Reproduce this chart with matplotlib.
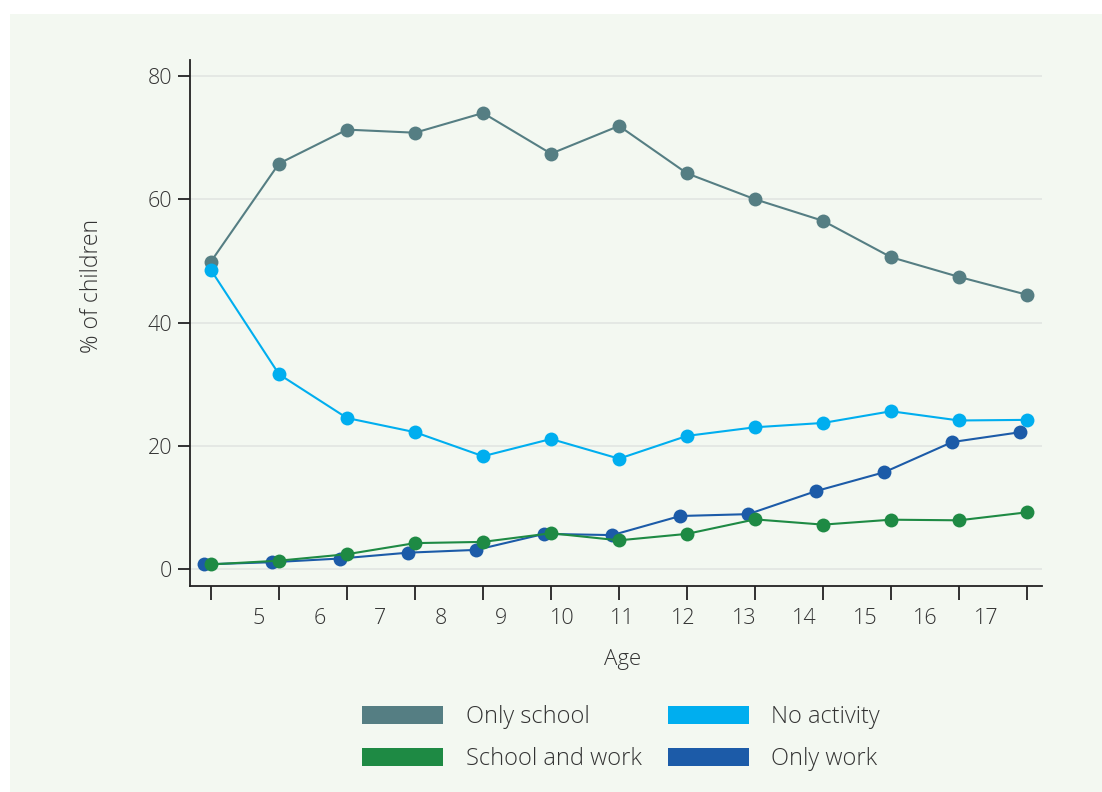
import matplotlib
matplotlib.use("Agg")
import matplotlib.pyplot as plt
from matplotlib.patches import Patch, Rectangle
import numpy as np

plt.rcParams['font.family'] = ['Open Sans', 'DejaVu Sans']
plt.rcParams['font.weight'] = 300

ages = [5, 6, 7, 8, 9, 10, 11, 12, 13, 14, 15, 16, 17]
only_school = [49.9, 65.8, 71.3, 70.8, 74.0, 67.4, 71.9, 64.2, 60.0, 56.5, 50.6, 47.4, 44.5]
no_activity = [48.5, 31.6, 24.5, 22.2, 18.3, 21.1, 17.9, 21.6, 23.0, 23.7, 25.6, 24.1, 24.2]
school_and_work = [0.75, 1.35, 2.4, 4.2, 4.4, 5.8, 4.65, 5.7, 8.05, 7.2, 8.0, 7.9, 9.2]
only_work = [0.75, 1.1, 1.7, 2.65, 3.1, 5.7, 5.5, 8.6, 8.9, 12.65, 15.7, 20.6, 22.2]
tick_labels = ["5", "6", "7", "8", "9", "10", "11", "12", "13", "14", "15", "16", "17"]
y_ticks = [0, 20, 40, 60, 80]

C_GREY = "#557E83"
C_LBLUE = "#00AEEF"
C_GREEN = "#1E8A44"
C_DBLUE = "#1C5BA8"
BG = "#F3F8F1"
TXT = "#333333"
FW = 300

fig = plt.figure(figsize=(11.02, 7.92), dpi=100)
fig.patch.set_facecolor("white")
fig.patches.append(Rectangle((10 / 1102, 0), 1 - 10 / 1102, 1 - 14 / 792,
                             transform=fig.transFigure, facecolor=BG,
                             edgecolor="none", zorder=-10))

ax = fig.add_axes([190 / 1102, 1 - 586 / 792, (1042 - 190) / 1102, (586 - 60) / 792])
ax.set_facecolor(BG)

x = np.arange(len(ages))
dodge = -0.1
series = [
    (only_school, C_GREY, 0),
    (no_activity, C_LBLUE, 0),
    (only_work, C_DBLUE, dodge),
    (school_and_work, C_GREEN, 0),
]
for vals, col, dx in series:
    ax.plot(x + dx, vals, color=col, lw=1.5, marker="o", markersize=10,
            markeredgewidth=0, zorder=3)

ax.set_xlim(-0.309, 12.22)
ax.set_ylim(-2.76, 82.6)

for s in ["top", "right"]:
    ax.spines[s].set_visible(False)
for s in ["left", "bottom"]:
    ax.spines[s].set_color("#222222")
    ax.spines[s].set_linewidth(1.3)

ax.set_yticks(y_ticks)
ax.set_yticklabels([str(v) for v in y_ticks], fontweight=FW)
ax.yaxis.grid(True, color="#E3E7E3", lw=1.3)
ax.set_axisbelow(True)
ax.tick_params(axis="y", length=9, width=1.3, color="#222222", labelsize=15.5,
               labelcolor=TXT, pad=4)

# major x ticks at points (no labels), labels on offset minor positions
ax.set_xticks(x)
ax.set_xticklabels([""] * len(x))
ax.tick_params(axis="x", which="major", length=10, width=1.3, color="#222222")
label_pos = 0.706 + np.arange(len(tick_labels)) * 0.891
ax.set_xticks(label_pos, minor=True)
ax.set_xticklabels(tick_labels, minor=True, fontweight=FW)
ax.tick_params(axis="x", which="minor", length=0, labelsize=15.5, labelcolor=TXT, pad=16)

ax.set_xlabel("Age", fontsize=16, color=TXT, fontweight=FW)
ax.xaxis.set_label_coords((623 - 190) / 852, (586 - 660) / 526)
ax.xaxis.label.set_va("center")
ax.set_ylabel("% of children", fontsize=16.5, color=TXT, fontweight=FW)
ax.yaxis.set_label_coords((92 - 190) / 852, (586 - 286) / 526)
ax.yaxis.label.set_va("center")

handles = [
    Patch(facecolor=C_GREY, edgecolor="none", label="Only school"),
    Patch(facecolor=C_GREEN, edgecolor="none", label="School and work"),
    Patch(facecolor=C_LBLUE, edgecolor="none", label="No activity"),
    Patch(facecolor=C_DBLUE, edgecolor="none", label="Only work"),
]
leg = fig.legend(handles=handles, ncol=2, loc="center",
                 bbox_to_anchor=(621 / 1102, 1 - 738 / 792),
                 frameon=False, prop={"size": 17, "weight": FW},
                 handlelength=3.45, handleheight=0.8,
                 handletextpad=0.95, columnspacing=1.1, labelspacing=0.75,
                 labelcolor=TXT)

fig.savefig("out.png", dpi=100, facecolor="white")
